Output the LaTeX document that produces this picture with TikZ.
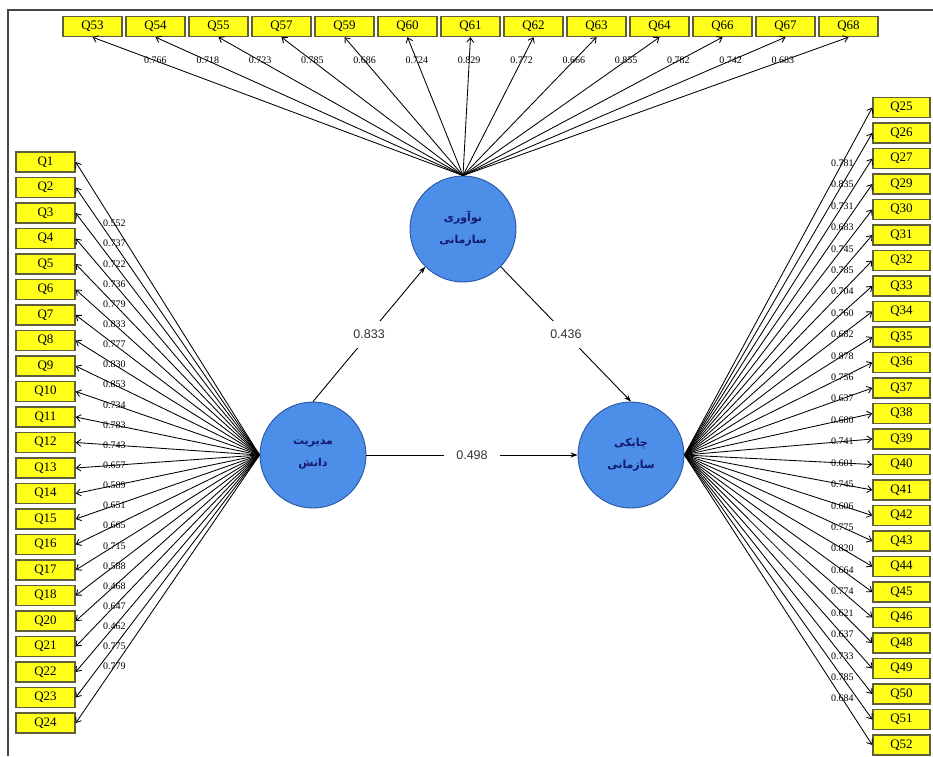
\documentclass[tikz,border=0pt]{standalone}
\usepackage{fontspec}
\setmainfont{Liberation Serif}
\newfontfamily\persianfont[Script=Arabic]{DejaVu Sans}
\newfontfamily\coeffont{Liberation Sans}
\TeXXeTstate=1
\usetikzlibrary{positioning,arrows.meta,calc}
\definecolor{itemfill}{RGB}{255,255,25}
\definecolor{itemedge}{RGB}{95,95,60}
\definecolor{latent}{RGB}{76,142,232}
\definecolor{latentedge}{RGB}{40,85,165}
\definecolor{latenttext}{RGB}{20,25,110}
\definecolor{framegray}{RGB}{70,70,70}
\newcommand{\rtl}[1]{\beginR #1\endR}
\tikzset{
  item/.style={draw=itemedge,line width=1.4pt,fill=itemfill,minimum width=59pt,
    minimum height=20pt,inner sep=0pt,font=\fontsize{13}{13}\selectfont},
  construct/.style={circle,draw=latentedge,line width=0.9pt,fill=latent,
    minimum size=106pt,inner sep=0pt,align=center,text=latenttext,
    font=\persianfont\bfseries\fontsize{11}{22}\selectfont},
  load/.style={-{Straight Barb[length=4.5pt,width=7pt]},line width=0.85pt,black},
  loadlabel/.style={inner sep=0pt,font=\fontsize{10}{10}\selectfont},
  effect/.style={-{Stealth[length=7pt,width=5pt]},line width=0.9pt},
  coef/.style={fill=white,inner xsep=12pt,inner ysep=9pt,
    text=black!80,font=\coeffont\fontsize{12.5}{12.5}\selectfont}
}
\begin{document}
\begin{tikzpicture}[x=1pt,y=-1pt]
    \useasboundingbox (0,0) rectangle (933,756);
    % frame (top and left only)
    \draw[framegray,line width=1.6pt] (8,756) -- (8,10) -- (933,10);
    % the three constructs
    \node[construct] (km)  at (313,455) {\rtl{مدیریت}\\\rtl{دانش}};
    \node[construct] (inn) at (463,229) {\rtl{نوآوری}\\\rtl{سازمانی}};
    \node[construct] (agi) at (631,455) {\rtl{چابکی}\\\rtl{سازمانی}};
    % knowledge management items
    \foreach \q/\w [count=\i from 0] in {1/0.552,2/0.737,3/0.722,4/0.736,5/0.779,6/0.833,
        7/0.777,8/0.830,9/0.853,10/0.734,11/0.783,12/0.743,13/0.657,14/0.589,15/0.651,
        16/0.665,17/0.715,18/0.588,20/0.468,21/0.647,22/0.462,23/0.775,24/0.779}{
        \node[item] (q\q) at (45.5,162+25.5*\i) {Q\q};
        \draw[load] (km.west) -- node[loadlabel,pos=0.79] {\w} (q\q.east);
    }
    % innovation items
    \foreach \q/\w [count=\i from 0] in {53/0.766,54/0.718,55/0.723,57/0.785,59/0.686,
        60/0.724,61/0.829,62/0.772,63/0.666,64/0.855,66/0.782,67/0.742,68/0.683}{
        \node[item] (q\q) at (92.5+63*\i,26.5) {Q\q};
        \draw[load] (inn.north) -- node[loadlabel,pos=0.83] {\w} (q\q.south);
    }
    % agility items
    \foreach \q/\w [count=\i from 0] in {25/0.781,26/0.835,27/0.731,29/0.683,30/0.745,
        31/0.785,32/0.704,33/0.760,34/0.682,35/0.878,36/0.756,37/0.637,38/0.680,
        39/0.741,40/0.601,41/0.745,42/0.606,43/0.775,44/0.820,45/0.664,46/0.774,
        48/0.621,49/0.637,50/0.733,51/0.785,52/0.684}{
        \node[item,minimum width=57pt] (q\q) at (901.5,107.5+25.5*\i) {Q\q};
        \draw[load] (agi.east) -- node[loadlabel,pos=0.84] {\w} (q\q.west);
    }
    % structural paths
    \draw[effect] (km.north) -- node[coef] {0.833} (inn.south west);
    \draw[effect] (inn.south east) -- node[coef] {0.436} (agi.north);
    \draw[effect] (km.east) -- node[coef] {0.498} (agi.west);
\end{tikzpicture}
\end{document}
